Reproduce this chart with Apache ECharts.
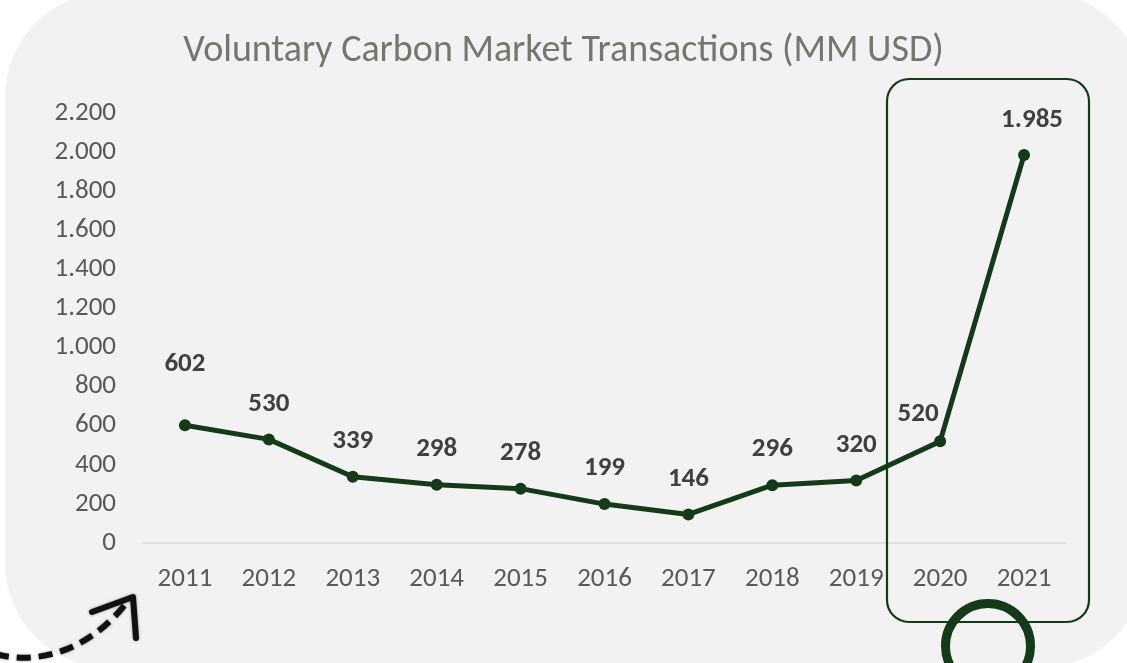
<!DOCTYPE html>
<html>
<head>
<meta charset="utf-8">
<style>
	html, body { margin: 0; padding: 0; background: #fff; }
	#chart { width: 1127px; height: 663px; }
</style>
<script src="https://cdn.jsdelivr.net/npm/echarts@6/dist/echarts.min.js"></script>
</head>
<body>
<div id="chart"></div>
<script type="text/javascript">
var years = ['2011', '2012', '2013', '2014', '2015', '2016', '2017', '2018', '2019', '2020', '2021'];
var values = [602, 530, 339, 298, 278, 199, 146, 296, 320, 520, 1985];
var yTicks = [0, 200, 400, 600, 800, 1000, 1200, 1400, 1600, 1800, 2000, 2200];

// 1985 -> 1.985
function dotFmt(v) {
	return String(v).replace(/\B(?=(\d{3})+(?!\d))/g, '.');
}

var green = '#143a19';
var font = 'Calibri, Carlito, "Open Sans", sans-serif';

var points = values.map(function(v, i) {
	var item = {value: v};
	if (i === 0) {
		item.label = {offset: [0, -26]};
	} else if (i === 9) {
		item.label = {offset: [-22, 8]};
	} else if (i === 10) {
		item.label = {offset: [8, 1]};
	}
	return item;
});

var myChart = echarts.init(document.getElementById('chart'));
var option = {
	backgroundColor: '#fff',
	animation: false,
	title: {
		text: 'Voluntary Carbon Market Transactions (MM USD)',
		left: 'center',
		top: 27,
		textStyle: {
			color: '#767670',
			fontSize: 38,
			fontWeight: 'normal',
			fontFamily: font
		}
	},
	grid: {
		left: 143,
		right: 61,
		top: 113,
		bottom: 120
	},
	xAxis: {
		type: 'category',
		data: years,
		boundaryGap: true,
		axisLine: {lineStyle: {color: '#d9d9d9', width: 1.5}},
		axisTick: {show: false},
		axisLabel: {
			color: '#595959',
			fontSize: 27,
			fontFamily: font,
			margin: 23
		}
	},
	yAxis: {
		type: 'value',
		min: yTicks[0],
		max: yTicks[yTicks.length - 1],
		interval: 200,
		splitLine: {show: false},
		axisLine: {show: false},
		axisTick: {show: false},
		axisLabel: {
			color: '#595959',
			fontSize: 27,
			fontFamily: font,
			margin: 27,
			formatter: function(v) { return dotFmt(v); }
		}
	},
	graphic: [
		{
			type: 'rect',
			z: -10,
			shape: {x: 5, y: -8, width: 1140, height: 676, r: 105},
			style: {fill: '#f2f2f2'}
		},
		{
			type: 'rect',
			z: 10,
			shape: {x: 887, y: 79, width: 202, height: 543, r: 22},
			style: {fill: 'none', stroke: green, lineWidth: 2.2}
		},
		{
			type: 'circle',
			z: 10,
			shape: {cx: 988, cy: 646, r: 42.5},
			style: {fill: 'none', stroke: green, lineWidth: 9}
		},
		{
			type: 'bezierCurve',
			z: 10,
			shape: {x1: -5, y1: 654, x2: 130, y2: 598, cpx1: 50, cpy1: 668, cpx2: 100, cpy2: 640},
			style: {stroke: '#111', lineWidth: 6, lineDash: [14, 8], fill: 'none', shadowBlur: 3, shadowColor: 'rgba(0,0,0,0.4)'}
		},
		{
			type: 'polyline',
			z: 10,
			shape: {points: [[92, 612], [133, 597], [136, 638]]},
			style: {stroke: '#111', lineWidth: 6, fill: 'none', lineJoin: 'round', lineCap: 'round', shadowBlur: 3, shadowColor: 'rgba(0,0,0,0.4)'}
		}
	],
	series: [{
		type: 'line',
		data: points,
		symbol: 'circle',
		symbolSize: 12,
		lineStyle: {color: green, width: 5},
		itemStyle: {color: green},
		label: {
			show: true,
			position: 'top',
			distance: 16,
			color: '#404040',
			fontSize: 27,
			fontWeight: 'bold',
			fontFamily: font,
			formatter: function(p) { return dotFmt(p.value); }
		}
	}]
};
myChart.setOption(option);
</script>
</body>
</html>
